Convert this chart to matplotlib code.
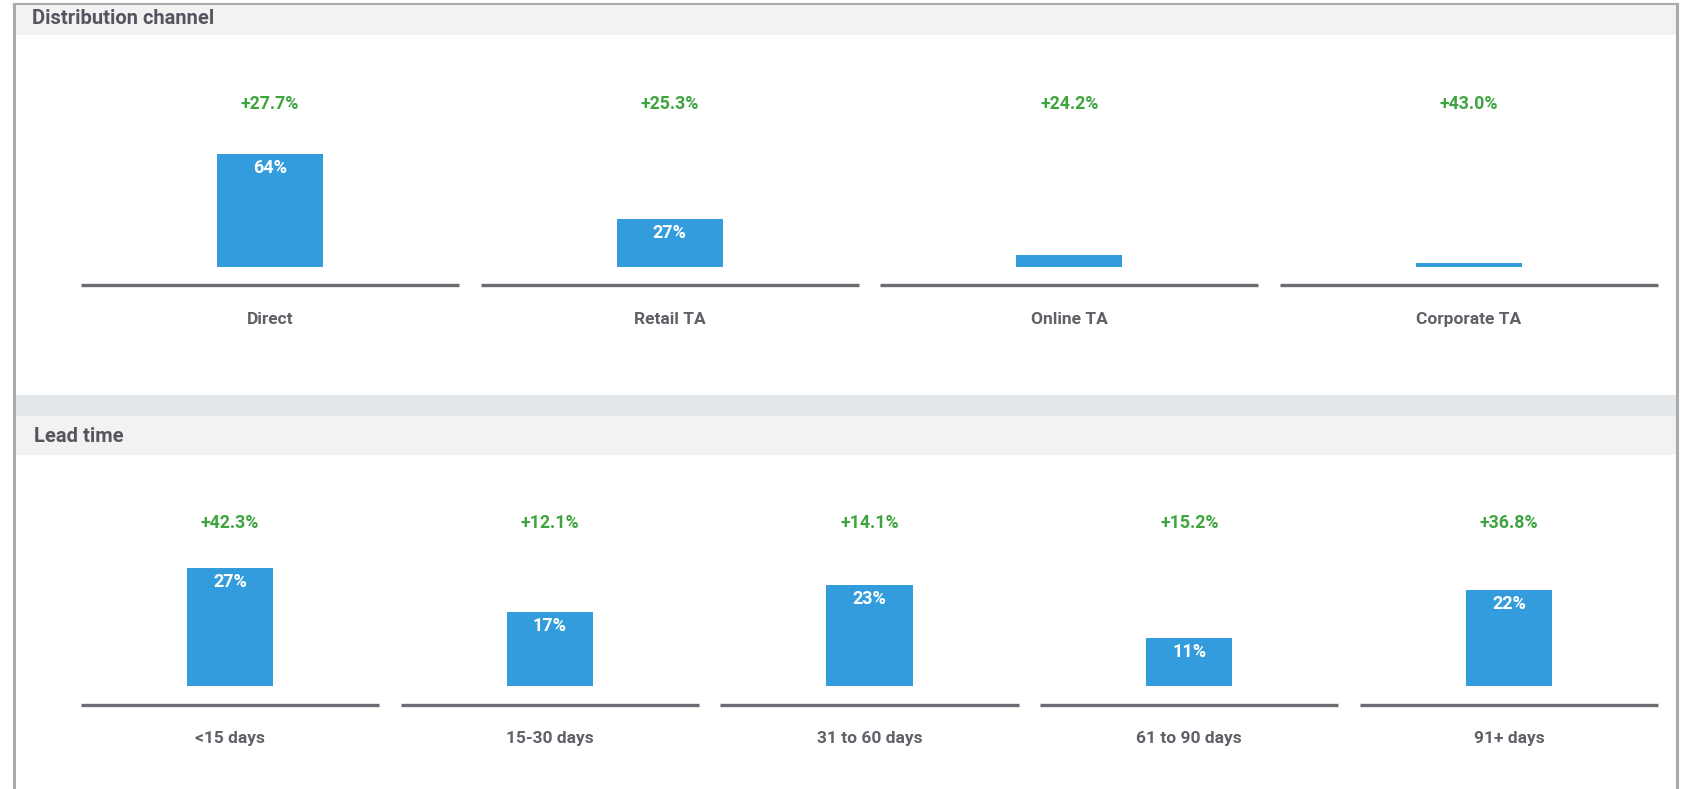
import matplotlib
matplotlib.use("Agg")
import matplotlib.pyplot as plt
from matplotlib.patches import Rectangle
from matplotlib.lines import Line2D

# ---------------- data ----------------
channel_labels = ["Direct", "Retail TA", "Online TA", "Corporate TA"]
channel_share = [64, 27, 7, 2]
channel_change = ["+27.7%", "+25.3%", "+24.2%", "+43.0%"]
channel_show_label = [True, True, False, False]

lead_labels = ["<15 days", "15-30 days", "31 to 60 days", "61 to 90 days", "91+ days"]
lead_share = [27, 17, 23, 11, 22]
lead_change = ["+42.3%", "+12.1%", "+14.1%", "+15.2%", "+36.8%"]
lead_show_label = [True, True, True, True, True]

# ---------------- style ----------------
W, H = 1687, 789
DPI = 100
FONT = ["Roboto", "DejaVu Sans"]
BLUE = "#339cdc"
GREEN = "#3ea53e"
GREY_TXT = "#606068"
TITLE_TXT = "#555560"
LINE = "#6b6d75"

plt.rcParams["font.family"] = FONT

fig = plt.figure(figsize=(W / DPI, H / DPI), dpi=DPI)
fig.patch.set_facecolor("white")


def px_rect(x0, y0, x1, y1, color, z=0):
    fig.patches.append(Rectangle((x0 / W, 1 - y1 / H), (x1 - x0) / W, (y1 - y0) / H,
                                 transform=fig.transFigure, facecolor=color,
                                 edgecolor="none", zorder=z))


def px_line(xs, ys, color, lw, z=5):
    fig.add_artist(Line2D([x / W for x in xs], [1 - y / H for y in ys],
                          transform=fig.transFigure, color=color, lw=lw, zorder=z))


# backgrounds / headers
px_rect(14, 4, 1677, 35, "#f2f2f2")
px_rect(14, 395, 1677, 416, "#e4e7ea")
px_rect(14, 416, 1677, 455, "#f2f2f2")
# outer frame
px_line([14, 14], [4, 789], "#aaaaaa", 2.2)
px_line([1677, 1677], [4, 789], "#aaaaaa", 2.2)
px_line([14, 1677], [4, 4], "#aaaaaa", 1.5)

fig.text(32 / W, 1 - 19 / H, "Distribution channel", fontsize=14.5, fontweight="bold",
         color=TITLE_TXT, va="center", ha="left")
fig.text(34 / W, 1 - 436 / H, "Lead time", fontsize=14.5, fontweight="bold",
         color=TITLE_TXT, va="center", ha="left")


def panel(labels, values, changes, show, px_top, px_bot, px_zero, px_per_unit,
          bar_w, seg_w, px_base, px_change, px_label):
    x0, x1 = 70, 1669
    ax = fig.add_axes([x0 / W, 1 - px_bot / H, (x1 - x0) / W, (px_bot - px_top) / H])
    n = len(labels)
    ax.set_xlim(-0.5, n - 0.5)
    ylo = (px_zero - px_bot) / px_per_unit
    yhi = (px_zero - px_top) / px_per_unit
    ax.set_ylim(ylo, yhi)
    ax.axis("off")
    xs = list(range(n))
    ax.bar(xs, values, width=bar_w, color=BLUE, zorder=3)
    base_y = (px_zero - px_base) / px_per_unit
    ax.hlines([base_y] * n, [x - seg_w / 2 for x in xs], [x + seg_w / 2 for x in xs],
              color=LINE, lw=2.4, zorder=2)
    ch_y = (px_zero - px_change) / px_per_unit
    lab_y = (px_zero - px_label) / px_per_unit
    for x, v, c, s, lab in zip(xs, values, changes, show, labels):
        ax.text(x, ch_y, c, ha="center", va="center", color=GREEN,
                fontsize=12.8, fontweight="bold")
        ax.text(x, lab_y, lab, ha="center", va="center", color=GREY_TXT,
                fontsize=12.5, fontweight="bold")
        if s:
            ax.annotate(f"{v}%", (x, v), xytext=(0, -5), textcoords="offset pixels",
                        ha="center", va="top", color="white", fontsize=13,
                        fontweight="bold", zorder=4)
    return ax


# top panel: 64 units -> 113 px, zero at 267 px
panel(channel_labels, channel_share, channel_change, channel_show_label,
      px_top=40, px_bot=345, px_zero=267, px_per_unit=113 / 64,
      bar_w=0.265, seg_w=0.945, px_base=285, px_change=104, px_label=319)

# bottom panel: 27 units -> 118 px, zero at 686 px
panel(lead_labels, lead_share, lead_change, lead_show_label,
      px_top=470, px_bot=770, px_zero=686, px_per_unit=118 / 27,
      bar_w=0.27, seg_w=0.932, px_base=705, px_change=523, px_label=739)

fig.savefig("out.png", dpi=DPI, facecolor="white")
